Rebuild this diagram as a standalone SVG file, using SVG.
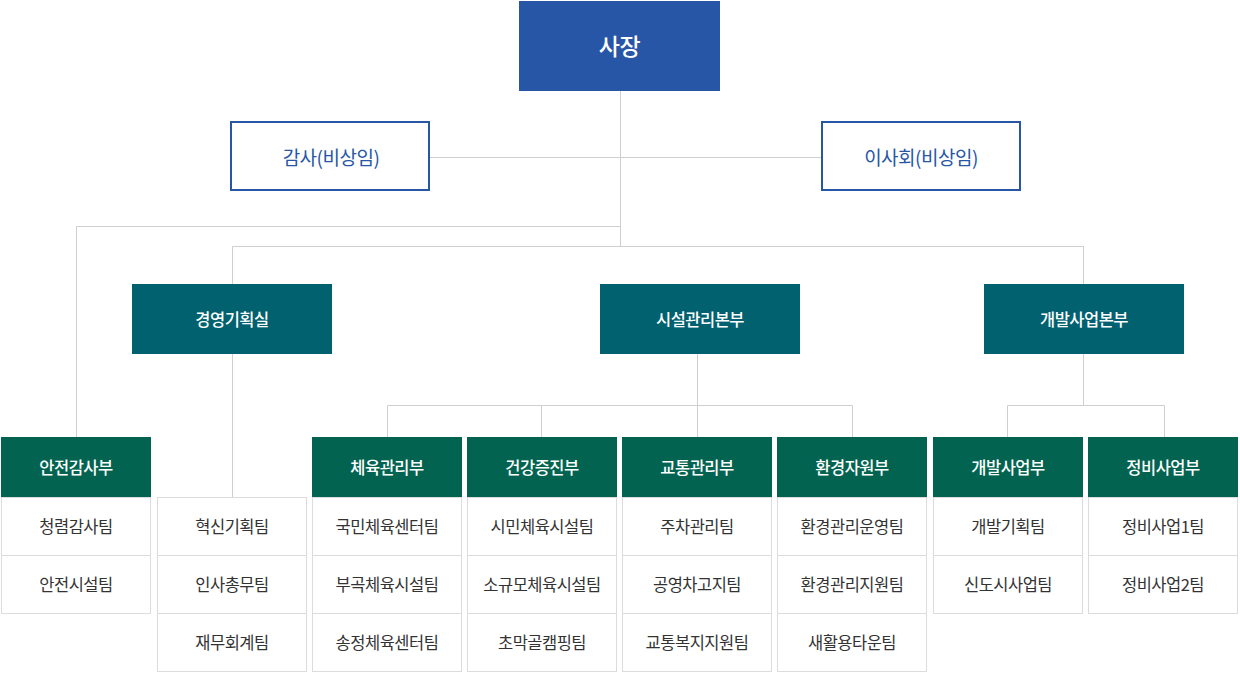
<svg xmlns="http://www.w3.org/2000/svg" width="1240" height="685" viewBox="0 0 1240 685">
<style>
text{font-family:"Noto Sans CJK KR","Noto Sans",sans-serif;text-anchor:middle;dominant-baseline:central}
.ln{stroke:#cfcfcf;stroke-width:1;fill:none}
.ceo{fill:#2756a6}
.ceot{fill:#fff;font-size:23px;font-weight:500;letter-spacing:-0.5px}
.aux{fill:#fff;stroke:#2756a6;stroke-width:2}
.auxt{fill:#2756a6;font-size:19px;letter-spacing:-0.5px}
.hq{fill:#01616f}
.hqt{fill:#fff;font-size:16.5px;font-weight:500;letter-spacing:-0.5px}
.dp{fill:#026450}
.dpt{fill:#fff;font-size:16.5px;font-weight:500;letter-spacing:-0.5px}
.tm{fill:#fff;stroke:#dcdcdc;stroke-width:1}
.tmt{fill:#333;font-size:16.5px;letter-spacing:-0.5px}
</style>
<rect width="1240" height="685" fill="#fff"/>
<g id="connectors">
<path class="ln" d="M620.5 91V246"/>
<path class="ln" d="M430 157.5H821"/>
<path class="ln" d="M620.5 226.5H76.5V437"/>
<path class="ln" d="M232.5 284V246.5H1083.5V284"/>
<path class="ln" d="M232.5 353V497"/>
<path class="ln" d="M697.5 353V405"/>
<path class="ln" d="M387.5 437V405.5H852.5V437"/>
<path class="ln" d="M541.5 405V437"/>
<path class="ln" d="M697.5 405V437"/>
<path class="ln" d="M1083.5 353V405"/>
<path class="ln" d="M1007.5 437V405.5H1164.5V437"/>
</g>
<g id="ceo"><rect class="ceo" x="519" y="1" width="201" height="90"/><text class="ceot" x="619.5" y="45">사장</text></g>
<g id="auditor"><rect class="aux" x="231" y="122" width="198" height="68"/><text class="auxt" x="331" y="156">감사(비상임)</text></g>
<g id="board"><rect class="aux" x="822" y="122" width="198" height="68"/><text class="auxt" x="921" y="156">이사회(비상임)</text></g>
<g id="hq1"><rect class="hq" x="132" y="284" width="200" height="70"/><text class="hqt" x="232" y="319">경영기획실</text></g>
<g id="hq2"><rect class="hq" x="600" y="284" width="200" height="70"/><text class="hqt" x="700" y="319">시설관리본부</text></g>
<g id="hq3"><rect class="hq" x="984" y="284" width="200" height="70"/><text class="hqt" x="1084" y="319">개발사업본부</text></g>
<g id="dept-safety"><rect class="dp" x="1" y="437" width="150" height="60"/><text class="dpt" x="76" y="467">안전감사부</text>
<rect class="tm" x="1.5" y="497.5" width="149" height="58"/><text class="tmt" x="76" y="526">청렴감사팀</text>
<rect class="tm" x="1.5" y="555.5" width="149" height="58"/><text class="tmt" x="76" y="584">안전시설팀</text></g>
<g id="teams-mgmt">
<rect class="tm" x="157.5" y="497.5" width="149" height="58"/><text class="tmt" x="232" y="526">혁신기획팀</text>
<rect class="tm" x="157.5" y="555.5" width="149" height="58"/><text class="tmt" x="232" y="584">인사총무팀</text>
<rect class="tm" x="157.5" y="613.5" width="149" height="58"/><text class="tmt" x="232" y="642">재무회계팀</text></g>
<g id="dept-sports"><rect class="dp" x="312" y="437" width="150" height="60"/><text class="dpt" x="387" y="467">체육관리부</text>
<rect class="tm" x="312.5" y="497.5" width="149" height="58"/><text class="tmt" x="387" y="526">국민체육센터팀</text>
<rect class="tm" x="312.5" y="555.5" width="149" height="58"/><text class="tmt" x="387" y="584">부곡체육시설팀</text>
<rect class="tm" x="312.5" y="613.5" width="149" height="58"/><text class="tmt" x="387" y="642">송정체육센터팀</text></g>
<g id="dept-health"><rect class="dp" x="467" y="437" width="150" height="60"/><text class="dpt" x="542" y="467">건강증진부</text>
<rect class="tm" x="467.5" y="497.5" width="149" height="58"/><text class="tmt" x="542" y="526">시민체육시설팀</text>
<rect class="tm" x="467.5" y="555.5" width="149" height="58"/><text class="tmt" x="542" y="584">소규모체육시설팀</text>
<rect class="tm" x="467.5" y="613.5" width="149" height="58"/><text class="tmt" x="542" y="642">초막골캠핑팀</text></g>
<g id="dept-traffic"><rect class="dp" x="622" y="437" width="150" height="60"/><text class="dpt" x="697" y="467">교통관리부</text>
<rect class="tm" x="622.5" y="497.5" width="149" height="58"/><text class="tmt" x="697" y="526">주차관리팀</text>
<rect class="tm" x="622.5" y="555.5" width="149" height="58"/><text class="tmt" x="697" y="584">공영차고지팀</text>
<rect class="tm" x="622.5" y="613.5" width="149" height="58"/><text class="tmt" x="697" y="642">교통복지지원팀</text></g>
<g id="dept-env"><rect class="dp" x="777" y="437" width="150" height="60"/><text class="dpt" x="852" y="467">환경자원부</text>
<rect class="tm" x="777.5" y="497.5" width="149" height="58"/><text class="tmt" x="852" y="526">환경관리운영팀</text>
<rect class="tm" x="777.5" y="555.5" width="149" height="58"/><text class="tmt" x="852" y="584">환경관리지원팀</text>
<rect class="tm" x="777.5" y="613.5" width="149" height="58"/><text class="tmt" x="852" y="642">새활용타운팀</text></g>
<g id="dept-dev"><rect class="dp" x="933" y="437" width="150" height="60"/><text class="dpt" x="1008" y="467">개발사업부</text>
<rect class="tm" x="933.5" y="497.5" width="149" height="58"/><text class="tmt" x="1008" y="526">개발기획팀</text>
<rect class="tm" x="933.5" y="555.5" width="149" height="58"/><text class="tmt" x="1008" y="584">신도시사업팀</text></g>
<g id="dept-maint"><rect class="dp" x="1088" y="437" width="150" height="60"/><text class="dpt" x="1163" y="467">정비사업부</text>
<rect class="tm" x="1088.5" y="497.5" width="149" height="58"/><text class="tmt" x="1163" y="526">정비사업1팀</text>
<rect class="tm" x="1088.5" y="555.5" width="149" height="58"/><text class="tmt" x="1163" y="584">정비사업2팀</text></g>
</svg>
